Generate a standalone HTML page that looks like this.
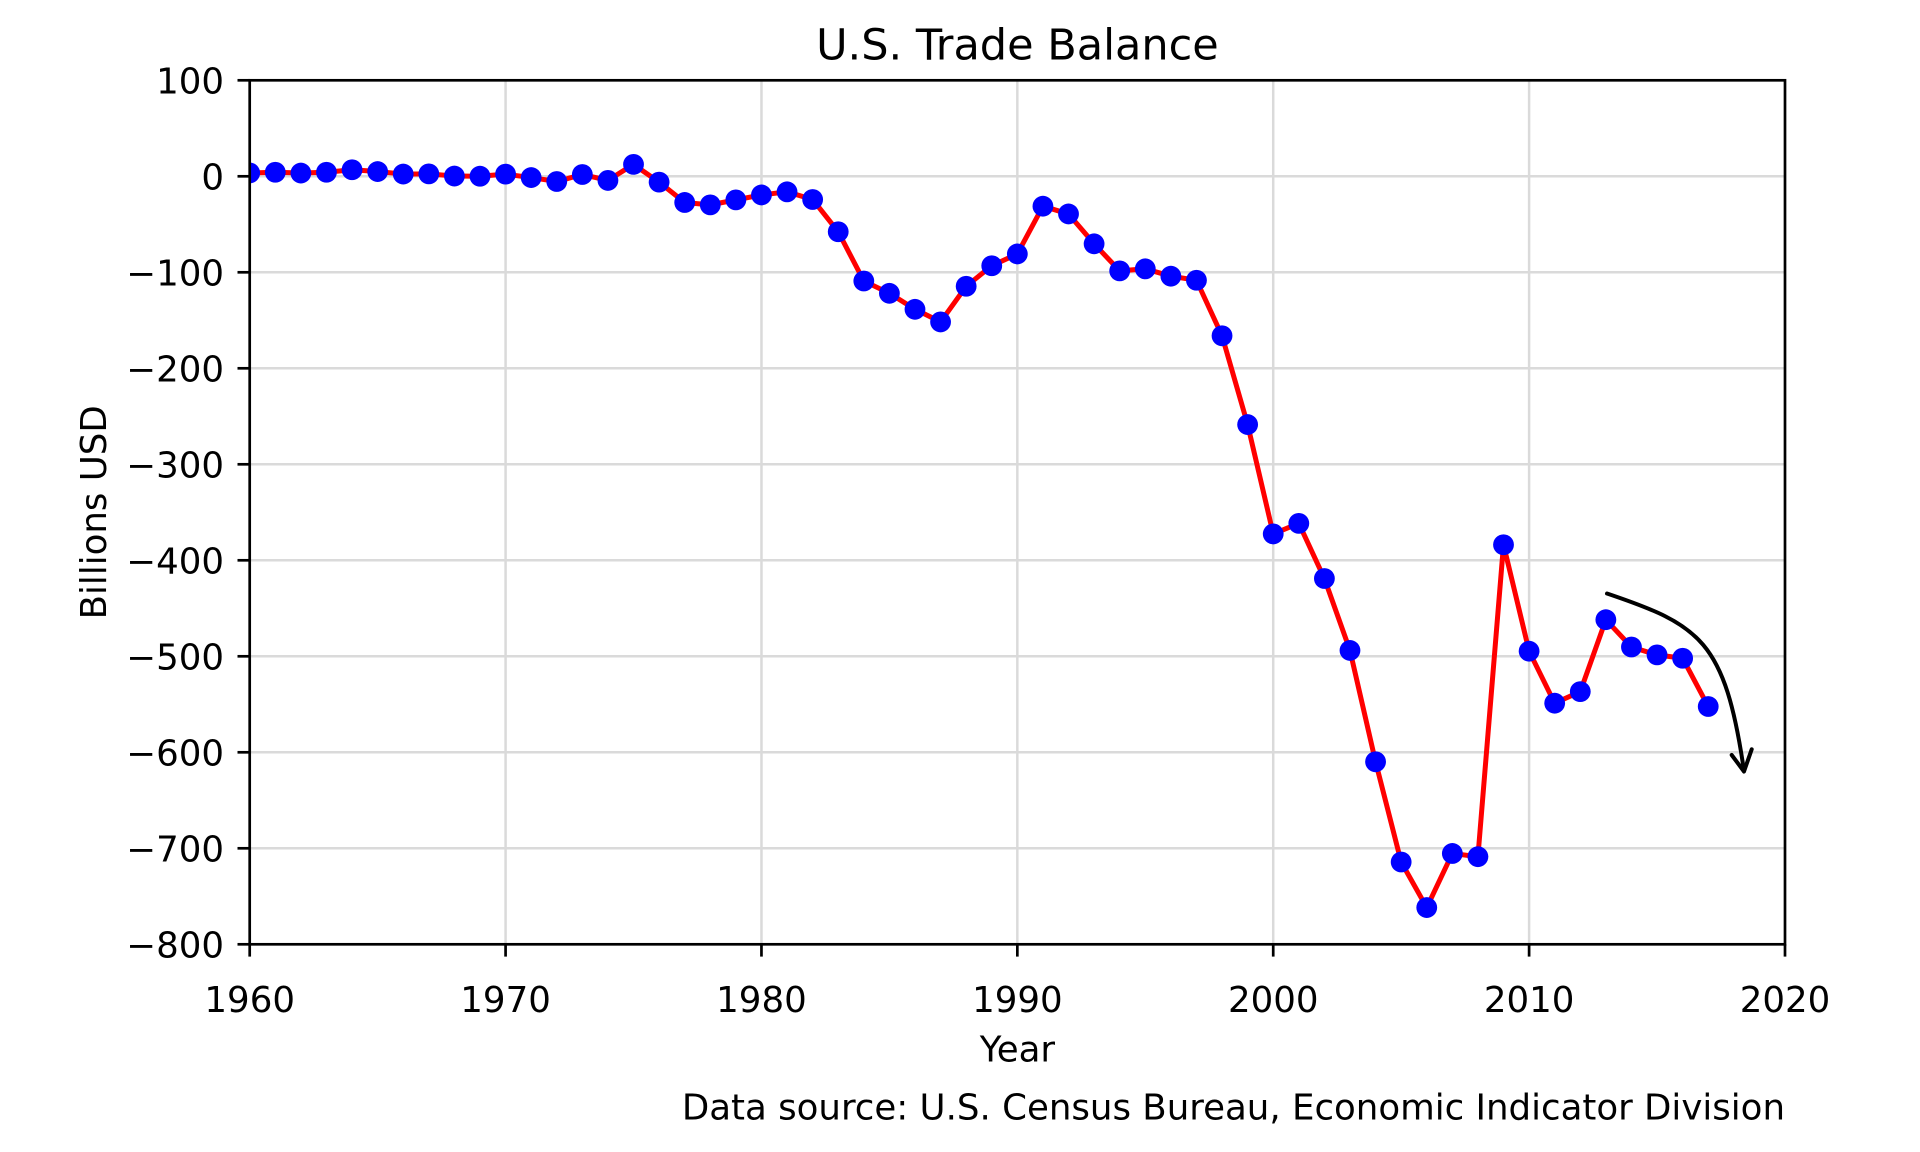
<!DOCTYPE html>
<html>
<head>
<meta charset="utf-8">
<style>
html,body{margin:0;padding:0;background:#fff;}
svg{display:block;}
text{font-family:"DejaVu Sans","Liberation Sans",sans-serif;fill:#000;}
</style>
</head>
<body>
<svg width="1920" height="1152" viewBox="0 0 1920 1152" xmlns="http://www.w3.org/2000/svg">
<defs>
<clipPath id="ax"><rect x="249.7" y="80.3" width="1535.3" height="864"/></clipPath>
</defs>
<rect width="1920" height="1152" fill="#fff"/>
<g stroke="#dadada" stroke-width="2.5" fill="none">
<line x1="249.7" y1="176.3" x2="1785" y2="176.3"/>
<line x1="249.7" y1="272.3" x2="1785" y2="272.3"/>
<line x1="249.7" y1="368.3" x2="1785" y2="368.3"/>
<line x1="249.7" y1="464.3" x2="1785" y2="464.3"/>
<line x1="249.7" y1="560.3" x2="1785" y2="560.3"/>
<line x1="249.7" y1="656.3" x2="1785" y2="656.3"/>
<line x1="249.7" y1="752.3" x2="1785" y2="752.3"/>
<line x1="249.7" y1="848.3" x2="1785" y2="848.3"/>
<line x1="505.58" y1="80.3" x2="505.58" y2="944.3"/>
<line x1="761.46" y1="80.3" x2="761.46" y2="944.3"/>
<line x1="1017.34" y1="80.3" x2="1017.34" y2="944.3"/>
<line x1="1273.22" y1="80.3" x2="1273.22" y2="944.3"/>
<line x1="1529.10" y1="80.3" x2="1529.10" y2="944.3"/>
</g>
<g clip-path="url(#ax)">
<polyline fill="none" stroke="#ff0000" stroke-width="5" stroke-linejoin="round" points="249.70,172.93 275.29,172.27 300.88,173.06 326.46,172.26 352.05,169.74 377.64,171.55 403.23,174.07 428.82,173.88 454.40,176.06 479.99,176.21 505.58,174.14 531.17,177.55 556.76,181.53 582.34,174.48 607.93,180.42 633.52,164.39 659.11,182.14 684.70,202.46 710.28,204.87 735.87,199.88 761.46,194.93 787.05,191.83 812.64,199.49 838.22,231.76 863.81,281.01 889.40,293.30 914.99,309.30 940.58,321.92 966.16,286.28 991.75,265.72 1017.34,253.93 1042.93,206.19 1068.52,213.94 1094.10,243.80 1119.69,270.85 1145.28,268.83 1170.87,276.20 1196.46,280.24 1222.04,335.79 1247.63,424.57 1273.22,533.92 1298.81,523.35 1324.40,578.52 1349.98,650.43 1375.57,761.79 1401.16,861.98 1426.75,907.55 1452.34,853.46 1477.92,856.68 1503.51,544.72 1529.10,651.18 1554.69,703.18 1580.28,691.60 1605.86,619.70 1631.45,647.02 1657.04,654.88 1682.63,658.22 1708.22,706.49"/>
<g fill="#0000ff">
<circle cx="249.70" cy="172.93" r="10.4"/>
<circle cx="275.29" cy="172.27" r="10.4"/>
<circle cx="300.88" cy="173.06" r="10.4"/>
<circle cx="326.46" cy="172.26" r="10.4"/>
<circle cx="352.05" cy="169.74" r="10.4"/>
<circle cx="377.64" cy="171.55" r="10.4"/>
<circle cx="403.23" cy="174.07" r="10.4"/>
<circle cx="428.82" cy="173.88" r="10.4"/>
<circle cx="454.40" cy="176.06" r="10.4"/>
<circle cx="479.99" cy="176.21" r="10.4"/>
<circle cx="505.58" cy="174.14" r="10.4"/>
<circle cx="531.17" cy="177.55" r="10.4"/>
<circle cx="556.76" cy="181.53" r="10.4"/>
<circle cx="582.34" cy="174.48" r="10.4"/>
<circle cx="607.93" cy="180.42" r="10.4"/>
<circle cx="633.52" cy="164.39" r="10.4"/>
<circle cx="659.11" cy="182.14" r="10.4"/>
<circle cx="684.70" cy="202.46" r="10.4"/>
<circle cx="710.28" cy="204.87" r="10.4"/>
<circle cx="735.87" cy="199.88" r="10.4"/>
<circle cx="761.46" cy="194.93" r="10.4"/>
<circle cx="787.05" cy="191.83" r="10.4"/>
<circle cx="812.64" cy="199.49" r="10.4"/>
<circle cx="838.22" cy="231.76" r="10.4"/>
<circle cx="863.81" cy="281.01" r="10.4"/>
<circle cx="889.40" cy="293.30" r="10.4"/>
<circle cx="914.99" cy="309.30" r="10.4"/>
<circle cx="940.58" cy="321.92" r="10.4"/>
<circle cx="966.16" cy="286.28" r="10.4"/>
<circle cx="991.75" cy="265.72" r="10.4"/>
<circle cx="1017.34" cy="253.93" r="10.4"/>
<circle cx="1042.93" cy="206.19" r="10.4"/>
<circle cx="1068.52" cy="213.94" r="10.4"/>
<circle cx="1094.10" cy="243.80" r="10.4"/>
<circle cx="1119.69" cy="270.85" r="10.4"/>
<circle cx="1145.28" cy="268.83" r="10.4"/>
<circle cx="1170.87" cy="276.20" r="10.4"/>
<circle cx="1196.46" cy="280.24" r="10.4"/>
<circle cx="1222.04" cy="335.79" r="10.4"/>
<circle cx="1247.63" cy="424.57" r="10.4"/>
<circle cx="1273.22" cy="533.92" r="10.4"/>
<circle cx="1298.81" cy="523.35" r="10.4"/>
<circle cx="1324.40" cy="578.52" r="10.4"/>
<circle cx="1349.98" cy="650.43" r="10.4"/>
<circle cx="1375.57" cy="761.79" r="10.4"/>
<circle cx="1401.16" cy="861.98" r="10.4"/>
<circle cx="1426.75" cy="907.55" r="10.4"/>
<circle cx="1452.34" cy="853.46" r="10.4"/>
<circle cx="1477.92" cy="856.68" r="10.4"/>
<circle cx="1503.51" cy="544.72" r="10.4"/>
<circle cx="1529.10" cy="651.18" r="10.4"/>
<circle cx="1554.69" cy="703.18" r="10.4"/>
<circle cx="1580.28" cy="691.60" r="10.4"/>
<circle cx="1605.86" cy="619.70" r="10.4"/>
<circle cx="1631.45" cy="647.02" r="10.4"/>
<circle cx="1657.04" cy="654.88" r="10.4"/>
<circle cx="1682.63" cy="658.22" r="10.4"/>
<circle cx="1708.22" cy="706.49" r="10.4"/>
</g>
</g>
<g fill="none" stroke="#000" stroke-width="4" stroke-linecap="round" stroke-linejoin="round">
<path d="M1607,593.5 C1700,625 1725,640 1744,771"/>
<polyline points="1731.7,755 1744,771.5 1751.7,749.3"/>
</g>
<rect x="249.7" y="80.3" width="1535.3" height="864" fill="none" stroke="#000" stroke-width="2.7"/>
<g stroke="#000" stroke-width="2.7">
<line x1="237.5" y1="80.3" x2="249.7" y2="80.3"/>
<line x1="237.5" y1="176.3" x2="249.7" y2="176.3"/>
<line x1="237.5" y1="272.3" x2="249.7" y2="272.3"/>
<line x1="237.5" y1="368.3" x2="249.7" y2="368.3"/>
<line x1="237.5" y1="464.3" x2="249.7" y2="464.3"/>
<line x1="237.5" y1="560.3" x2="249.7" y2="560.3"/>
<line x1="237.5" y1="656.3" x2="249.7" y2="656.3"/>
<line x1="237.5" y1="752.3" x2="249.7" y2="752.3"/>
<line x1="237.5" y1="848.3" x2="249.7" y2="848.3"/>
<line x1="237.5" y1="944.3" x2="249.7" y2="944.3"/>
<line x1="249.7" y1="944.3" x2="249.7" y2="956.6"/>
<line x1="505.58" y1="944.3" x2="505.58" y2="956.6"/>
<line x1="761.46" y1="944.3" x2="761.46" y2="956.6"/>
<line x1="1017.34" y1="944.3" x2="1017.34" y2="956.6"/>
<line x1="1273.22" y1="944.3" x2="1273.22" y2="956.6"/>
<line x1="1529.10" y1="944.3" x2="1529.10" y2="956.6"/>
<line x1="1785" y1="944.3" x2="1785" y2="956.6"/>
</g>
<g font-size="35.6" text-anchor="end">
<text x="224" y="93.3">100</text>
<text x="224" y="189.3">0</text>
<text x="224" y="285.3">−100</text>
<text x="224" y="381.3">−200</text>
<text x="224" y="477.3">−300</text>
<text x="224" y="573.3">−400</text>
<text x="224" y="669.3">−500</text>
<text x="224" y="765.3">−600</text>
<text x="224" y="861.3">−700</text>
<text x="224" y="957.3">−800</text>
</g>
<g font-size="35.6" text-anchor="middle">
<text x="249.7" y="1012">1960</text>
<text x="505.58" y="1012">1970</text>
<text x="761.46" y="1012">1980</text>
<text x="1017.34" y="1012">1990</text>
<text x="1273.22" y="1012">2000</text>
<text x="1529.10" y="1012">2010</text>
<text x="1785" y="1012">2020</text>
</g>
<text x="1017.4" y="59.3" font-size="43" text-anchor="middle">U.S. Trade Balance</text>
<text x="1017.4" y="1061.7" font-size="35.6" text-anchor="middle">Year</text>
<text transform="translate(106,512.3) rotate(-90)" font-size="35.6" text-anchor="middle">Billions USD</text>
<text x="1785" y="1119.3" font-size="35.6" text-anchor="end">Data source: U.S. Census Bureau, Economic Indicator Division</text>
</svg>
</body>
</html>
